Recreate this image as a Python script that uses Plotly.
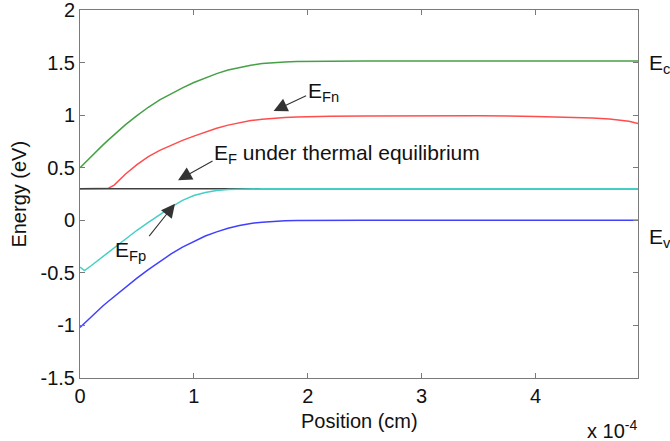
import plotly.graph_objects as go

# Position in units of 1e-4 cm
x_pos = [0, 0.04, 0.1, 0.2, 0.25, 0.3, 0.4, 0.5, 0.6, 0.7, 0.8, 0.9, 1.0, 1.1, 1.2, 1.3, 1.4, 1.5,
         1.6, 1.7, 1.8, 1.9, 2.0, 2.2, 2.5, 3.0, 3.5, 4.0, 4.3, 4.5, 4.65, 4.75, 4.82, 4.9]

ec = [0.50, 0.545, 0.61, 0.715, 0.765, 0.815, 0.91, 0.995, 1.075, 1.145, 1.205, 1.26, 1.31, 1.355,
      1.395, 1.43, 1.455, 1.475, 1.49, 1.50, 1.506, 1.51, 1.512, 1.514, 1.515, 1.515, 1.515, 1.515,
      1.515, 1.515, 1.515, 1.515, 1.515, 1.515]

efn = [0.30, 0.30, 0.30, 0.30, 0.305, 0.335, 0.44, 0.53, 0.605, 0.665, 0.715, 0.76, 0.80, 0.84,
       0.875, 0.905, 0.93, 0.948, 0.96, 0.97, 0.977, 0.982, 0.986, 0.99, 0.993, 0.995, 0.994, 0.988,
       0.98, 0.972, 0.963, 0.953, 0.942, 0.92]

efp = [-0.445, -0.478, -0.43, -0.345, -0.30, -0.26, -0.175, -0.095, -0.02, 0.055, 0.125, 0.19, 0.235,
       0.265, 0.283, 0.293, 0.297, 0.299, 0.30, 0.30, 0.30, 0.30, 0.30, 0.30, 0.30, 0.30, 0.30, 0.30,
       0.30, 0.30, 0.30, 0.30, 0.30, 0.30]

ev = [-1.02, -0.977, -0.915, -0.815, -0.77, -0.725, -0.635, -0.55, -0.47, -0.395, -0.32, -0.255, -0.20,
      -0.15, -0.11, -0.075, -0.05, -0.03, -0.018, -0.01, -0.005, -0.003, -0.002, -0.001, 0.0, 0.0, 0.0,
      0.0, 0.0, 0.0, 0.0, 0.0, 0.0, 0.0]

ef_x = [0, 4.9]
ef_eq = [0.30, 0.30]

x_ticks = [0, 1, 2, 3, 4]
x_ticktext = ["0", "1", "2", "3", "4"]
y_ticks = [-1.5, -1, -0.5, 0, 0.5, 1, 1.5, 2]
y_ticktext = ["-1.5", "-1", "-0.5", "0", "0.5", "1", "1.5", "2"]

FONT = "Liberation Sans, Arial, Helvetica, sans-serif"

fig = go.Figure()
fig.add_trace(go.Scatter(x=x_pos, y=ec, mode="lines", line=dict(color="#46a046", width=1.5)))
fig.add_trace(go.Scatter(x=x_pos, y=efn, mode="lines", line=dict(color="#ff4d4d", width=1.5)))
fig.add_trace(go.Scatter(x=ef_x, y=ef_eq, mode="lines", line=dict(color="#404040", width=1.3)))
fig.add_trace(go.Scatter(x=x_pos, y=efp, mode="lines", line=dict(color="#45cfc6", width=1.5)))
fig.add_trace(go.Scatter(x=x_pos, y=ev, mode="lines", line=dict(color="#4040ff", width=1.5)))

axis_common = dict(showgrid=False, zeroline=False, showline=True, linecolor="#7a7a7a", linewidth=1,
                   mirror="ticks", ticks="inside", ticklen=5, tickcolor="#7a7a7a",
                   ticklabeloverflow="allow", automargin=False,
                   tickfont=dict(family=FONT, size=20, color="#111"))
fig.update_xaxes(range=[0, 4.9], tickvals=x_ticks, ticktext=x_ticktext, **axis_common)
fig.update_yaxes(range=[-1.5, 2.0], tickvals=y_ticks, ticktext=y_ticktext, **axis_common)

anns = []
tf = dict(family=FONT, size=21, color="#111")
# arrows (empty text: tail at pixel offset, tip at x,y)
for (tx, ty, ax, ay) in [(1.70, 1.04, 34, -16), (0.861, 0.381, 36, -20), (0.834, 0.158, -27, 34)]:
    anns.append(dict(x=tx, y=ty, xref="x", yref="y", ax=ax, ay=ay, text="", showarrow=True,
                     arrowhead=2, arrowsize=2.5, arrowwidth=1.1, arrowcolor="#333", standoff=0, startstandoff=0))
# labels
anns.append(dict(x=(305 - 80) / 113.6, y=1.22, xref="x", yref="y", text="E<sub>Fn</sub>",
                 showarrow=False, xanchor="left", yanchor="middle", font=tf))
anns.append(dict(x=(212 - 80) / 113.6, y=0.63, xref="x", yref="y",
                 text="E<sub>F</sub> under thermal equilibrium",
                 showarrow=False, xanchor="left", yanchor="middle", font=tf))
anns.append(dict(x=(113 - 80) / 113.6, y=-0.29, xref="x", yref="y", text="E<sub>Fp</sub>",
                 showarrow=False, xanchor="left", yanchor="middle", font=tf))
anns.append(dict(x=1.017, y=1.49, xref="paper", yref="y", text="E<sub>c</sub>",
                 showarrow=False, xanchor="left", yanchor="middle", font=tf))
anns.append(dict(x=1.017, y=-0.17, xref="paper", yref="y", text="E<sub>v</sub>",
                 showarrow=False, xanchor="left", yanchor="middle", font=tf))
anns.append(dict(x=-0.11, y=0.5, xref="paper", yref="paper", text="Energy (eV)", textangle=-90,
                 showarrow=False, xanchor="center", yanchor="middle", font=dict(family=FONT, size=20, color="#111")))
anns.append(dict(x=0.5, y=-0.117, xref="paper", yref="paper", text="Position (cm)",
                 showarrow=False, xanchor="center", yanchor="middle", font=dict(family=FONT, size=20, color="#111")))
anns.append(dict(x=1.001, y=-0.18, xref="paper", yref="paper", text="x 10<sup>-4</sup>",
                 showarrow=False, xanchor="right", yanchor="bottom", font=dict(family=FONT, size=20, color="#111")))

fig.update_layout(width=670, height=441, margin=dict(l=80, r=32, t=10, b=63, autoexpand=False),
                  paper_bgcolor="white", plot_bgcolor="white", showlegend=False,
                  annotations=anns, font=dict(family=FONT))

fig.write_html("out.html")
